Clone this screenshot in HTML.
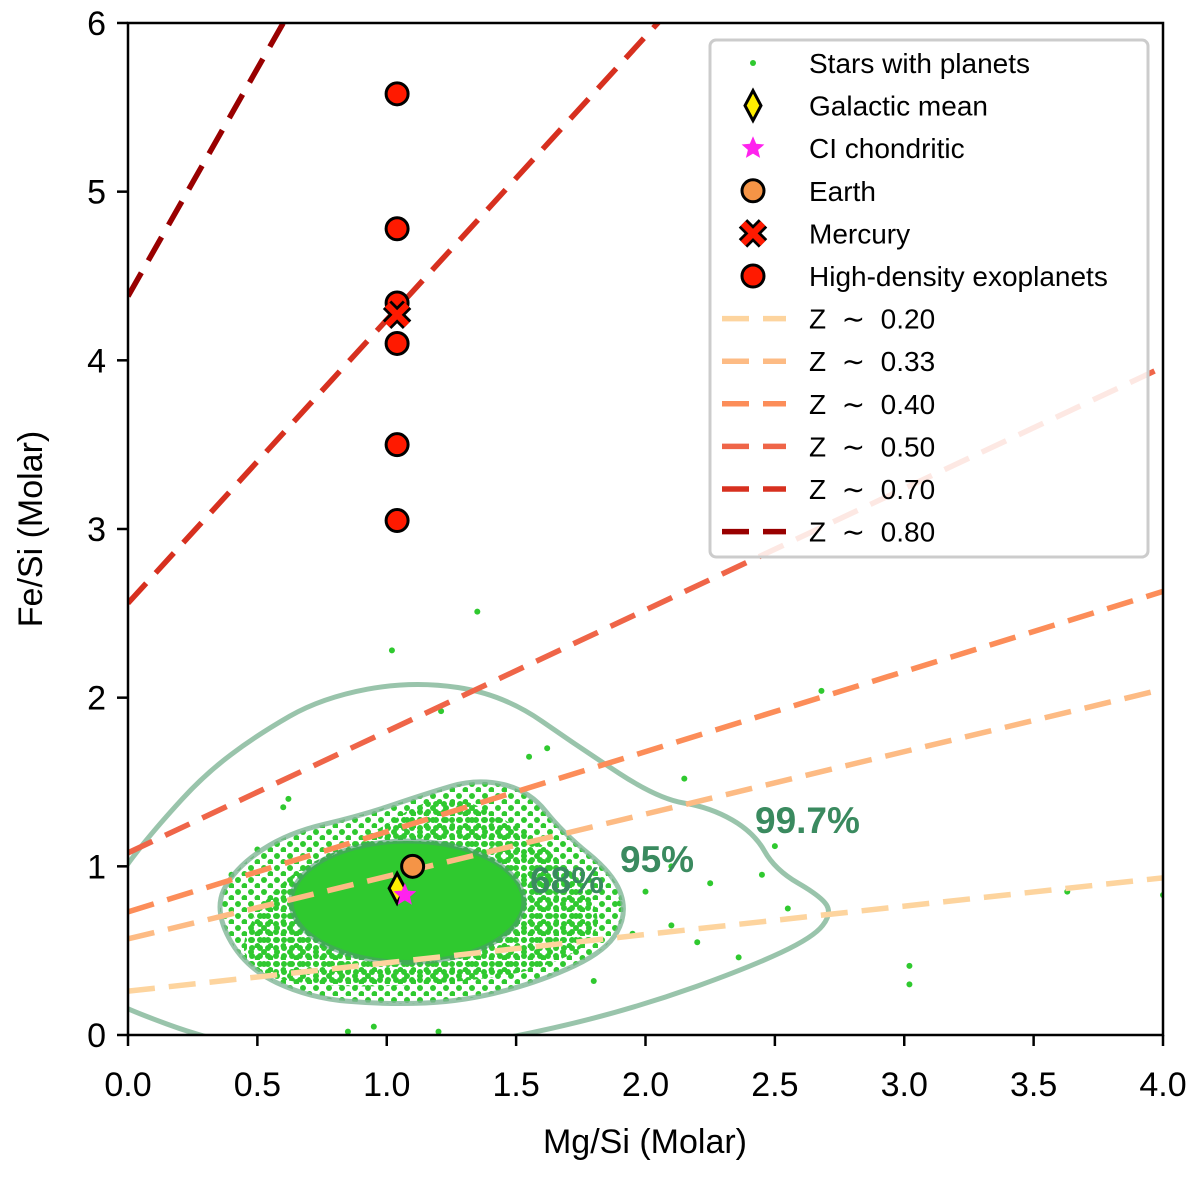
<!DOCTYPE html>
<html><head><meta charset="utf-8"><style>
body{margin:0;background:#fff;}
svg text{font-family:"Liberation Sans",sans-serif;}
</style></head><body>
<svg id="chart" width="1200" height="1174" viewBox="0 0 1200 1174" xmlns="http://www.w3.org/2000/svg">
<defs>
<pattern id="dots" width="8" height="8" patternUnits="userSpaceOnUse"><circle cx="4" cy="4" r="3" fill="#2fc92f"/></pattern>
<pattern id="dots2" width="13" height="12" patternUnits="userSpaceOnUse"><circle cx="4" cy="4" r="3" fill="#2fc92f"/><circle cx="10.5" cy="10" r="3" fill="#2fc92f"/></pattern>
<clipPath id="plotclip"><rect x="128" y="23" width="1035" height="1012"/></clipPath>
</defs>
<g id="plot" clip-path="url(#plotclip)"></g>
<g id="axes"></g>
</svg>
<script>
const lineLabels=["0.20","0.33","0.40","0.50","0.70","0.80"];
const lineIntercepts=[0.26,0.57,0.73,1.08,2.56,4.38];
const lineSlopes=[0.168,0.37,0.475,0.72,1.68,2.7];
const lineColors=["#fdd49e","#fdbb84","#fc8d59","#ef6548","#d7301f","#990000"];
const exoY=[5.58,4.78,4.34,4.10,3.50,3.05];
const exoX=1.04;
const mercury=[1.04,4.27];
const earth=[1.10,1.00];
const galactic=[1.04,0.87];
const ciChondritic=[1.07,0.83];
const xTicks=[0,0.5,1,1.5,2,2.5,3,3.5,4];
const yTicks=[0,1,2,3,4,5,6];
const c997x=[-0.05,0.0,0.3,0.7,1.1,1.6,2.0,2.4,2.65,2.72,2.68,2.5,2.42,2.25,2.05,1.75,1.45,1.1,0.75,0.5,0.3,0.12,0.0,-0.05];
const c997y=[0.2,0.15,-0.02,-0.15,-0.12,0.02,0.18,0.4,0.58,0.72,0.82,0.98,1.2,1.35,1.4,1.7,2.02,2.1,2.0,1.78,1.55,1.25,1.02,0.9];
const c95x=[0.33,0.42,0.62,0.9,1.15,1.35,1.55,1.68,1.88,1.93,1.85,1.6,1.3,1.0,0.7,0.45];
const c95y=[0.75,1.0,1.2,1.3,1.43,1.52,1.45,1.2,0.95,0.72,0.5,0.32,0.2,0.18,0.22,0.4];
const c68=[1.08,0.79,0.45,0.36];
const outX=[1.02,1.35,1.21,2.68,3.02,3.02,4.0,3.63,2.5,2.45,2.1,2.15,1.9,0.5,0.62,1.62,1.55,2.2,2.36,1.8,0.85,0.95,1.2,2.55,0.6,0.4,2.0,2.1,1.95,2.25];
const outY=[2.28,2.51,1.92,2.04,0.41,0.3,0.83,0.85,1.12,0.95,1.0,1.52,0.78,1.1,1.4,1.7,1.65,0.55,0.46,0.32,0.02,0.05,0.02,0.75,1.35,0.95,0.85,0.65,0.6,0.9];
const NS="http://www.w3.org/2000/svg";
const X=v=>128+v*258.75, Y=v=>1035-v*168.67;
function mk(tag,attrs,parent){const e=document.createElementNS(NS,tag);for(const k in attrs)e.setAttribute(k,attrs[k]);parent.appendChild(e);return e;}
const plot=document.getElementById('plot'), axes=document.getElementById('axes');
function smooth(xs,ys){const n=xs.length;const P=xs.map((x,i)=>[X(x),Y(ys[i])]);let d='';
for(let i=0;i<n;i++){const a=P[i],b=P[(i+1)%n];const m=[(a[0]+b[0])/2,(a[1]+b[1])/2];
if(i==0){const z=P[n-1];d+='M'+((z[0]+a[0])/2).toFixed(1)+','+((z[1]+a[1])/2).toFixed(1);}
d+=' Q'+a[0].toFixed(1)+','+a[1].toFixed(1)+' '+m[0].toFixed(1)+','+m[1].toFixed(1);}return d+'Z';}
let p=mk('path',{d:smooth(c95x,c95y),fill:'url(#dots2)'},plot);


let dense=mk('path',{d:smooth([0.42,0.6,0.9,1.2,1.45,1.75,1.85,1.6,1.2,0.8,0.5],[0.55,0.95,1.15,1.45,1.3,0.95,0.6,0.38,0.3,0.28,0.35]),fill:'url(#dots)'},plot);


let core=mk('ellipse',{cx:X(c68[0]),cy:Y(c68[1]),rx:c68[2]*258.75,ry:c68[3]*168.67,fill:'#2fc92f'},plot);


outX.forEach((x,i)=>{const c=mk('circle',{cx:X(x),cy:Y(outY[i]),r:3,fill:'#2fc92f'},plot);

});
let k=mk('path',{d:smooth(c997x,c997y),fill:'none',stroke:'#7fb596','stroke-width':5,opacity:0.8},plot);


k=mk('path',{d:smooth(c95x,c95y),fill:'none',stroke:'#7fb596','stroke-width':5,opacity:0.8},plot);


k=mk('ellipse',{cx:X(c68[0]),cy:Y(c68[1]),rx:c68[2]*258.75,ry:c68[3]*168.67,fill:'none',stroke:'#4d9a6e','stroke-width':5,opacity:0.6},plot);


lineIntercepts.forEach((b,i)=>{const m=lineSlopes[i];const l=mk('line',{x1:X(0),y1:Y(b),x2:X(4),y2:Y(b+4*m),stroke:lineColors[i],'stroke-width':5.5,'stroke-dasharray':'27,14'},plot);

});
[["68%",530,893],["95%",620,872],["99.7%",755,833]].forEach(t=>{const e=mk('text',{x:t[1],y:t[2],'font-size':37,'font-weight':'bold',fill:'#3a8a5f'},plot);e.textContent=t[0];

});
exoY.forEach(y=>{const c=mk('circle',{cx:X(exoX),cy:Y(y),r:11,fill:'#ff1a00',stroke:'#000','stroke-width':3},plot);

});
function cross(cx,cy,s,parent){const g=mk('g',{},parent);mk('path',{d:`M${cx-s},${cy-s}L${cx+s},${cy+s}M${cx+s},${cy-s}L${cx-s},${cy+s}`,stroke:'#000','stroke-width':12},g);mk('path',{d:`M${cx-s},${cy-s}L${cx+s},${cy+s}M${cx+s},${cy-s}L${cx-s},${cy+s}`,stroke:'#ff1a00','stroke-width':6.5},g);return g;}
let mm=cross(X(mercury[0]),Y(mercury[1]),10,plot);


function diamond(cx,cy,parent){return mk('path',{d:`M${cx},${cy-15}L${cx+8},${cy}L${cx},${cy+15}L${cx-8},${cy}Z`,fill:'#ffee00',stroke:'#000','stroke-width':3},parent);}
function star(cx,cy,r,parent){let d='';for(let i=0;i<10;i++){const a=-Math.PI/2+i*Math.PI/5,rr=i%2?r*0.45:r;d+=(i?'L':'M')+(cx+rr*Math.cos(a)).toFixed(1)+','+(cy+rr*Math.sin(a)).toFixed(1);}return mk('path',{d:d+'Z',fill:'#ff22ee'},parent);}
let gm=diamond(X(galactic[0]),Y(galactic[1]),plot);


let ea=mk('circle',{cx:X(earth[0]),cy:Y(earth[1]),r:11,fill:'#f59446',stroke:'#000','stroke-width':3},plot);


let ci=star(X(ciChondritic[0]),Y(ciChondritic[1]),12,plot);


let fr=mk('rect',{x:128,y:23,width:1035,height:1012,fill:'none',stroke:'#000','stroke-width':2.5},axes);


xTicks.forEach(v=>{mk('line',{x1:X(v),y1:1035,x2:X(v),y2:1046,stroke:'#000','stroke-width':2.5},axes);
const t=mk('text',{x:X(v),y:1096,'font-size':34,'text-anchor':'middle'},axes);t.textContent=v.toFixed(1);

});
yTicks.forEach(v=>{mk('line',{x1:117,y1:Y(v),x2:128,y2:Y(v),stroke:'#000','stroke-width':2.5},axes);
const t=mk('text',{x:106,y:Y(v)+12,'font-size':34,'text-anchor':'end'},axes);t.textContent=v;

});
let xl=mk('text',{x:645,y:1153,'font-size':34,'text-anchor':'middle'},axes);xl.textContent='Mg/Si (Molar)';


let yl=mk('text',{x:0,y:0,'font-size':34,'text-anchor':'middle',transform:'translate(42,529) rotate(-90)'},axes);yl.textContent='Fe/Si (Molar)';


const lg=mk('g',{},axes);


mk('rect',{x:710,y:40,width:438,height:517,rx:6,fill:'#fff','fill-opacity':0.85,stroke:'#ccc','stroke-width':3},lg);
const names=["Stars with planets","Galactic mean","CI chondritic","Earth","Mercury","High-density exoplanets"].concat(lineLabels.map(s=>'Z \u00a0∼\u00a0 '+s));
names.forEach((n,i)=>{const y=63+i*42.6;const t=mk('text',{x:809,y:y+10,'font-size':28},lg);t.textContent=n;


const mx=753;
if(i==0)mk('circle',{cx:mx,cy:y,r:3,fill:'#2fc92f'},lg);
else if(i==1)diamond(mx,y,lg);
else if(i==2)star(mx,y,12,lg);
else if(i==3)mk('circle',{cx:mx,cy:y,r:11,fill:'#f59446',stroke:'#000','stroke-width':3},lg);
else if(i==4)cross(mx,y,10,lg);
else if(i==5)mk('circle',{cx:mx,cy:y,r:11,fill:'#ff1a00',stroke:'#000','stroke-width':3},lg);
else mk('line',{x1:722,y1:y,x2:786,y2:y,stroke:lineColors[i-6],'stroke-width':5.5,'stroke-dasharray':'27,14'},lg);});
</script>
</body></html>
